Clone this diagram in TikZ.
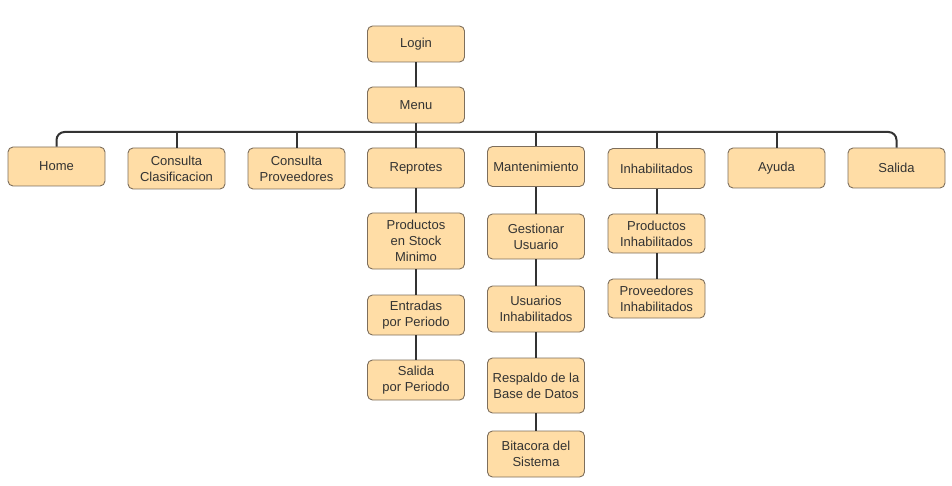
\documentclass[tikz,border=0pt]{standalone}
\usepackage{fontspec}
\setmainfont{Liberation Sans}
\definecolor{boxfill}{HTML}{FFDDA6}
\definecolor{boxdraw}{HTML}{7D6E5C}
\definecolor{linec}{HTML}{333333}
\begin{document}
\begin{tikzpicture}[x=1pt,y=-1pt,
  box/.style={draw=boxdraw,fill=boxfill,rounded corners=5pt,line width=0.9pt,
    minimum width=97pt,align=center,inner sep=0pt,text=black!80,
    font=\fontsize{13}{16}\selectfont},
  link/.style={draw=linec,line width=2pt}]
\useasboundingbox (0,0) rectangle (952,486);
\node[box,minimum height=36pt] (login) at (416,44) {Login};
\node[box,minimum height=36pt] (menu) at (416,105) {Menu};
\node[box,minimum height=39pt] (home) at (56.5,166.5) {Home};
\node[box,minimum height=41pt] (clas) at (176.5,168.5) {Consulta\\Clasificacion};
\node[box,minimum height=41pt] (prov) at (296.5,168.5) {Consulta\\Proveedores};
\node[box,minimum height=40pt] (rep) at (416,168) {Reprotes};
\node[box,minimum height=40pt] (mant) at (536,166.5) {Mantenimiento};
\node[box,minimum height=40pt] (inh) at (656.5,168.5) {Inhabilitados};
\node[box,minimum height=40pt] (ayu) at (776.5,168) {Ayuda};
\node[box,minimum height=40pt] (sal) at (896.5,168) {Salida};
\node[box,minimum height=56pt] (stock) at (416,241) {Productos\\en Stock\\Minimo};
\node[box,minimum height=40pt] (entr) at (416,315) {Entradas\\por Periodo};
\node[box,minimum height=40pt] (salp) at (416,380) {Salida\\por Periodo};
\node[box,minimum height=45pt] (gest) at (536,236.5) {Gestionar\\Usuario};
\node[box,minimum height=46pt] (usin) at (536,309) {Usuarios\\Inhabilitados};
\node[box,minimum height=55pt] (resp) at (536,385.5) {Respaldo de la\\Base de Datos};
\node[box,minimum height=46pt] (bita) at (536,454) {Bitacora del\\Sistema};
\node[box,minimum height=39pt] (pinh) at (656.5,233.5) {Productos\\Inhabilitados};
\node[box,minimum height=39pt] (prvi) at (656.5,298.5) {Proveedores\\Inhabilitados};
\coordinate (bus) at (416,132);
\begin{scope}[on background layer/.style={}]
\draw[link] (login) -- (menu);
\draw[link] (menu) -- (bus);
\draw[link,rounded corners=8pt] (home.north) -- (home.north |- bus) -- (sal.north |- bus) -- (sal.north);
\foreach \n in {clas,prov,rep,mant,inh,ayu}{\draw[link] (\n.north) -- (\n.north |- bus);}
\draw[link] (rep) -- (stock) (stock) -- (entr) (entr) -- (salp);
\draw[link] (mant) -- (gest) (gest) -- (usin) (usin) -- (resp) (resp) -- (bita);
\draw[link] (inh) -- (pinh) (pinh) -- (prvi);
\end{scope}
\end{tikzpicture}
\end{document}
